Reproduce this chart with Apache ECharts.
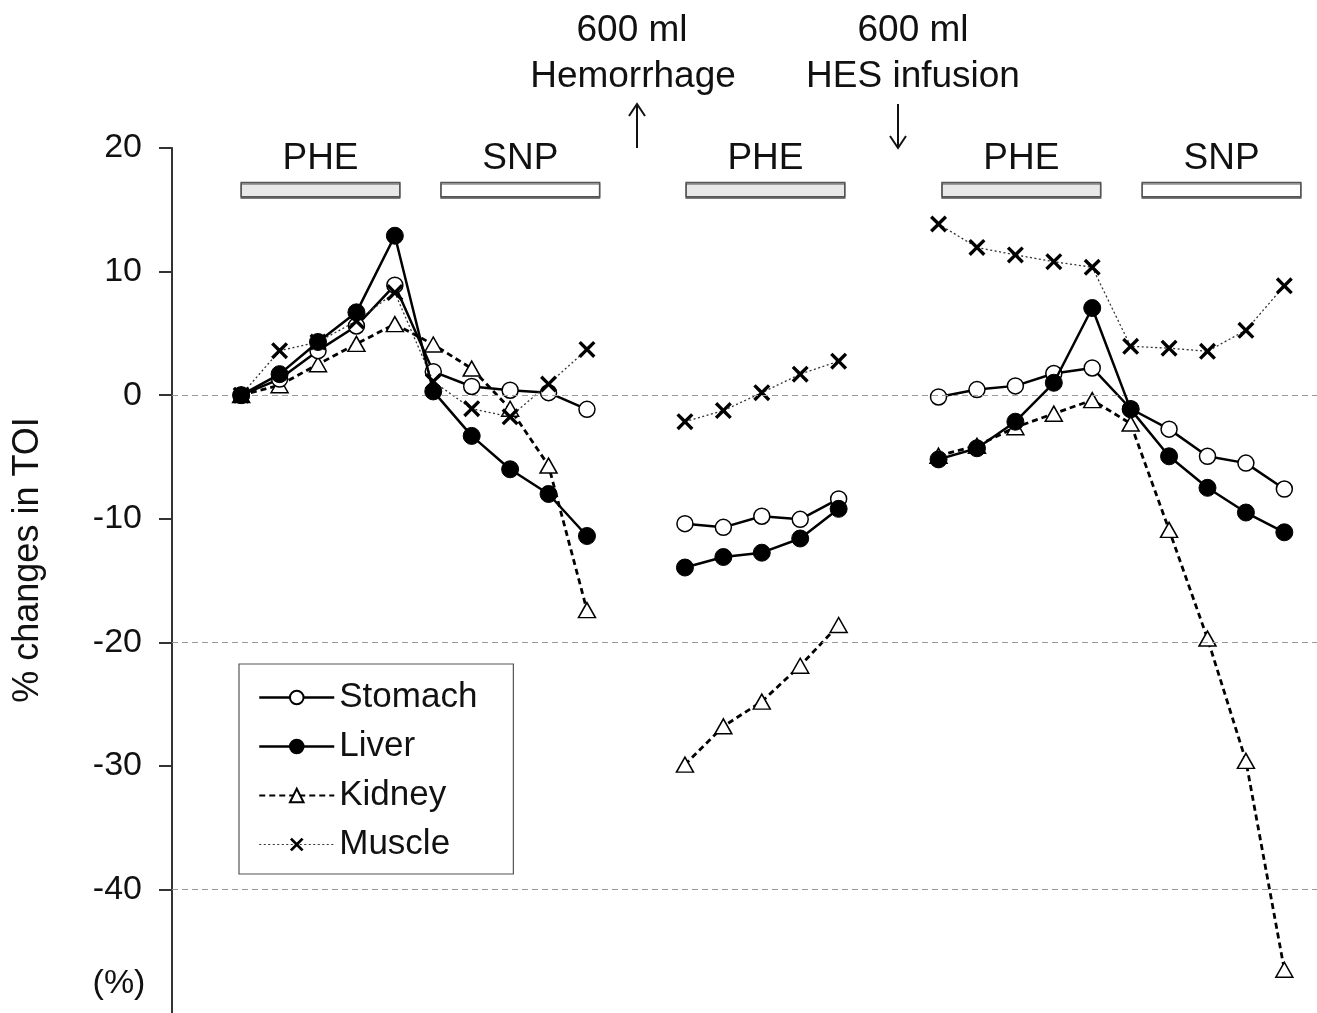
<!DOCTYPE html>
<html><head><meta charset="utf-8">
<script src="https://cdn.jsdelivr.net/npm/echarts@6/dist/echarts.min.js"></script>
<style>html,body{margin:0;padding:0;background:#fff}#c{width:1317px;height:1013px}</style>
</head><body><div id="c"></div>
<script>
// ---- data ----
const seriesNames = ['Stomach', 'Liver', 'Kidney', 'Muscle'];
// measurement time points (three recording blocks: baseline, after hemorrhage, after HES infusion)
const timePoints = [0, 1, 2, 3, 4, 5, 6, 7, 8, 9,
                    11.55, 12.55, 13.55, 14.55, 15.55,
                    18.15, 19.15, 20.15, 21.15, 22.15, 23.15, 24.15, 25.15, 26.15, 27.15];
const blockSizes = [10, 5, 10];
const stomach = [0, 1.3, 3.6, 5.6, 8.9, 1.9, 0.7, 0.4, 0.2, -1.15,
                 -10.4, -10.7, -9.8, -10.05, -8.4,
                 -0.15, 0.45, 0.75, 1.75, 2.2, -1.1, -2.75, -4.95, -5.5, -7.6];
const liver = [0, 1.7, 4.3, 6.7, 12.9, 0.3, -3.3, -6.0, -8.0, -11.4,
               -13.95, -13.1, -12.75, -11.6, -9.2,
               -5.2, -4.3, -2.15, 1.0, 7.05, -1.15, -4.95, -7.5, -9.5, -11.1];
const kidney = [0, 0.8, 2.5, 4.15, 5.75, 4.1, 2.15, -1.1, -5.7, -17.4,
                -29.9, -26.8, -24.8, -21.9, -18.6,
                -4.9, -4.1, -2.6, -1.5, -0.4, -2.3, -10.9, -19.7, -29.6, -46.5];
const muscle = [0, 3.6, 4.3, 6.0, 8.3, 1.1, -1.1, -1.75, 0.9, 3.7,
                -2.15, -1.25, 0.2, 1.7, 2.75,
                13.85, 11.95, 11.35, 10.8, 10.35, 3.95, 3.8, 3.55, 5.25, 8.85];
const yTickLabels = [20, 10, 0, -10, -20, -30, -40];
const referenceLines = [0, -20, -40];
const phaseLabels = ['PHE', 'SNP', 'PHE', 'PHE', 'SNP'];
const annotations = [['600 ml', 'Hemorrhage'], ['600 ml', 'HES infusion']];
const yTitle = '% changes in TOI';
const yUnit = '(%)';

// ---- layout ----
const FONT = '"Liberation Sans", Arial, sans-serif';
const phaseStarts = [0, 5.2, 11.58, 18.24, 23.45];
const phaseWidth = 4.13;

function buildData(values) {
  const out = [];
  let k = 0;
  blockSizes.forEach((n, b) => {
    for (let i = 0; i < n; i++, k++) out.push([timePoints[k], values[k]]);
    if (b < blockSizes.length - 1) out.push([timePoints[k - 1] + 0.5, '-']);
  });
  return out;
}

const xSym = 'path://M0,2.8L2.8,0L10,7.2L17.2,0L20,2.8L12.8,10L20,17.2L17.2,20L10,12.8L2.8,20L0,17.2L7.2,10Z';

function arrow(x, yTop, yBottom, up) {
  const tipY = up ? yTop : yBottom;
  const dir = up ? 1 : -1;
  return [
    {type: 'line', shape: {x1: x, y1: yTop, x2: x, y2: yBottom}, style: {stroke: '#111', lineWidth: 2}},
    {type: 'polyline', shape: {points: [[x - 8, tipY + dir * 12], [x, tipY], [x + 8, tipY + dir * 12]]},
     style: {stroke: '#111', lineWidth: 2, fill: null}}
  ];
}

const chart = echarts.init(document.getElementById('c'), null, {renderer: 'canvas'});
const textStyleOf = (size) => ({font: size + 'px ' + FONT, fill: '#111', textAlign: 'center', textVerticalAlign: 'middle'});
const option = {
  animation: false,
  backgroundColor: '#fff',
  textStyle: {fontFamily: FONT},
  grid: {left: 172, right: 0, top: 148, bottom: -3, containLabel: false},
  xAxis: {type: 'value', min: -1.8, max: 28, show: false},
  yAxis: {
    type: 'value', min: -50, max: 20, interval: 10,
    axisLine: {show: true, onZero: false, lineStyle: {color: '#333', width: 2}},
    axisTick: {show: true, length: 13, customValues: yTickLabels, lineStyle: {color: '#333', width: 2}},
    axisLabel: {fontSize: 34, color: '#111', margin: 30, fontFamily: FONT, customValues: yTickLabels,
      formatter: v => yTickLabels.indexOf(v) >= 0 ? String(v) : ''},
    splitLine: {show: false}
  },
  legend: {
    orient: 'vertical', left: 239, top: 664,
    data: [
      {name: 'Stomach', lineStyle: {width: 2.5}},
      {name: 'Liver', lineStyle: {width: 2.5}},
      {name: 'Kidney', lineStyle: {width: 2.2}},
      {name: 'Muscle', lineStyle: {width: 1.2}}
    ],
    itemWidth: 75, itemHeight: 17, itemGap: 14,
    padding: [16, 36, 12, 19],
    borderColor: '#555', borderWidth: 1.2,
    selectedMode: false,
    textStyle: {fontSize: 35, color: '#111', fontFamily: FONT}
  },
  series: [
    {
      name: '__ref', type: 'line', data: [], silent: true,
      markLine: {
        silent: true, symbol: 'none',
        label: {show: false},
        lineStyle: {color: '#999', width: 1, type: [6, 4]},
        data: referenceLines.map(v => ({yAxis: v}))
      },
      markArea: {
        silent: true,
        label: {show: true, position: 'top', distance: 5, fontSize: 37, color: '#111', fontFamily: FONT, formatter: '{b}'},
        data: phaseLabels.map((p, i) => [
          {name: p, xAxis: phaseStarts[i], yAxis: 17.2,
           itemStyle: {color: p === 'PHE' ? '#e8e8e8' : '#ffffff', borderColor: '#555', borderWidth: 1.5,
                       shadowColor: 'rgba(0,0,0,0.45)', shadowOffsetY: 1.5, shadowBlur: 0}},
          {xAxis: phaseStarts[i] + phaseWidth, yAxis: 16.05}
        ])
      }
    },
    {
      name: 'Stomach', type: 'line', data: buildData(stomach), z: 3,
      symbol: 'circle', symbolSize: 16,
      lineStyle: {color: '#000', width: 2.5},
      itemStyle: {color: '#fff', borderColor: '#000', borderWidth: 1.5}
    },
    {
      name: 'Kidney', type: 'line', data: buildData(kidney), z: 2,
      symbol: 'triangle', symbolSize: [17, 15],
      lineStyle: {color: '#000', width: 2.8, type: [6, 4]},
      itemStyle: {color: '#fff', borderColor: '#000', borderWidth: 1.5}
    },
    {
      name: 'Muscle', type: 'line', data: buildData(muscle), z: 4,
      symbol: xSym, symbolSize: 17,
      lineStyle: {color: '#333', width: 1.3, type: [2, 2.5]},
      itemStyle: {color: '#000'}
    },
    {
      name: 'Liver', type: 'line', data: buildData(liver), z: 5,
      symbol: 'circle', symbolSize: 17,
      lineStyle: {color: '#000', width: 2.5},
      itemStyle: {color: '#000', borderColor: '#000', borderWidth: 1}
    }
  ],
  graphic: [
    {type: 'text', x: 28, y: 560, rotation: Math.PI / 2, style: Object.assign({text: yTitle}, textStyleOf(36))},
    {type: 'text', x: 119, y: 984, style: Object.assign({text: yUnit}, textStyleOf(34))},
    {type: 'text', x: 632, y: 31, style: Object.assign({text: annotations[0][0]}, textStyleOf(37))},
    {type: 'text', x: 633, y: 77, style: Object.assign({text: annotations[0][1]}, textStyleOf(37))},
    {type: 'text', x: 913, y: 31, style: Object.assign({text: annotations[1][0]}, textStyleOf(37))},
    {type: 'text', x: 913, y: 77, style: Object.assign({text: annotations[1][1]}, textStyleOf(37))}
  ].concat(arrow(637, 104, 148, true), arrow(898, 104, 148, false))
};
chart.setOption(option);
</script>
</body></html>
